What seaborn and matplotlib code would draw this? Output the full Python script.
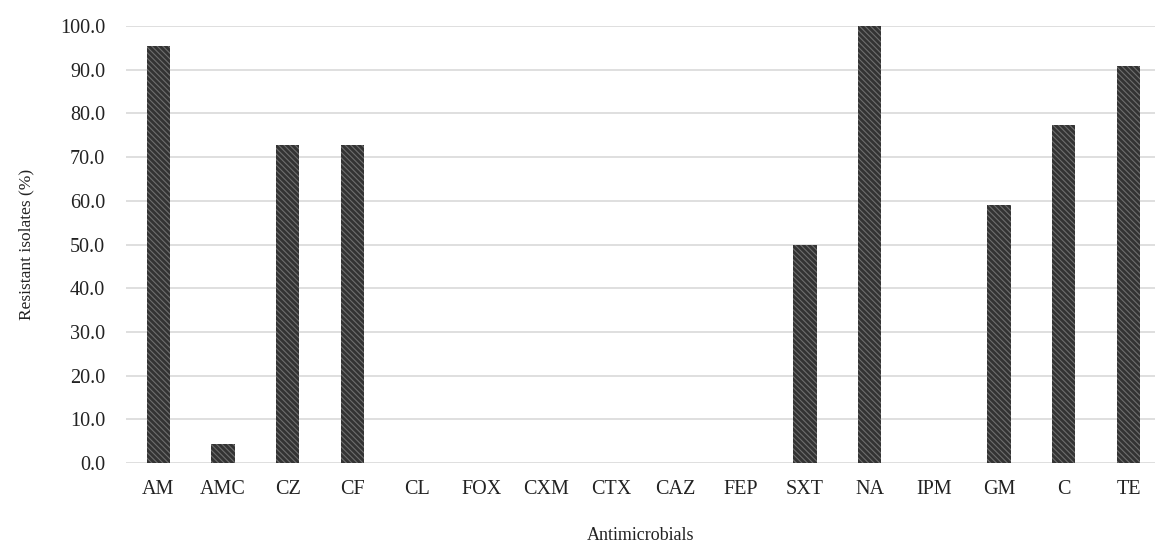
import pandas as pd
import matplotlib
matplotlib.use('Agg')
import matplotlib.pyplot as plt
import seaborn as sns

# Data
drugs = ['AM', 'AMC', 'CZ', 'CF', 'CL', 'FOX', 'CXM', 'CTX', 'CAZ', 'FEP',
         'SXT', 'NA', 'IPM', 'GM', 'C', 'TE']
resistant = [95.5, 4.5, 72.7, 72.7, 0.0, 0.0, 0.0, 0.0, 0.0, 0.0,
             50.0, 100.0, 0.0, 59.1, 77.3, 90.9]

df = pd.DataFrame({'Antimicrobials': drugs, 'Resistant': resistant})

sns.set_style('white')
plt.rcParams['font.family'] = ['Liberation Serif', 'DejaVu Serif']
plt.rcParams['hatch.linewidth'] = 0.8

fig = plt.figure(figsize=(11.55, 5.43), dpi=100)
ax = fig.add_axes([0.109, 0.147, 0.891, 0.805])

sns.barplot(data=df, x='Antimicrobials', y='Resistant', color='#3b3b3b',
            width=0.36, ax=ax, zorder=3)
for bar in ax.patches:
    bar.set_facecolor('#333333')
    bar.set_edgecolor('#6e6e6e')
    bar.set_hatch('\\\\\\\\\\\\')
    bar.set_linewidth(0)

ax.set_ylim(0, 100)
ax.set_xlim(-0.5, 15.41)
ax.set_yticks(range(0, 101, 10))
ax.set_yticklabels([f'{v:.1f}' for v in range(0, 101, 10)])
ax.yaxis.grid(True, color='#d9d9d9', linewidth=1.2, zorder=0)
ax.set_axisbelow(True)
for s in ax.spines.values():
    s.set_visible(False)
ax.tick_params(axis='both', length=0, labelsize=14.5, colors='#222222')
ax.tick_params(axis='y', pad=15)
ax.tick_params(axis='x', pad=12)

ax.set_xlabel('Antimicrobials', fontsize=13, labelpad=20, color='#222222')
ax.set_ylabel('Resistant isolates (%)', fontsize=12.5, labelpad=18, color='#222222')

fig.savefig('out.png', dpi=100)
